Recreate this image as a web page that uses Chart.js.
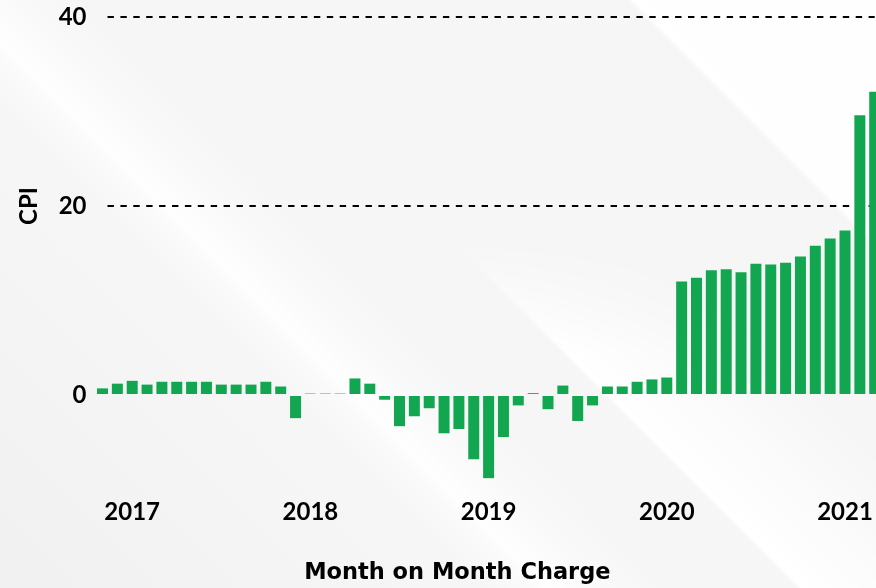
<!DOCTYPE html>
<html>
<head>
<meta charset="utf-8">
<script src="https://cdn.jsdelivr.net/npm/chart.js@4"></script>
<style>
  html, body { margin: 0; padding: 0; }
  body { width: 876px; height: 588px; overflow: hidden; background: #f6f6f6; position: relative; }
  .bg { position: absolute; left: 0; top: 0; width: 876px; height: 588px; }
  #bg1 { background:
      linear-gradient(45deg, rgba(255,255,255,0) 83%, rgba(255,255,255,0.95) 83.4%, rgba(255,255,255,0.85) 100%),
      linear-gradient(45deg, rgba(255,255,255,0) 33%, rgba(255,255,255,0.55) 36.5%, rgba(255,255,255,0.9) 37.3%, rgba(255,255,255,0.3) 42%, rgba(255,255,255,0) 46%),
      linear-gradient(45deg, rgba(235,235,235,0.5) 0%, rgba(255,255,255,0) 30%); }
  #bg2 {
    background: linear-gradient(45deg, rgba(255,255,255,0) 54.4%, rgba(255,255,255,0.95) 54.8%, rgba(255,255,255,0.5) 62%, rgba(255,255,255,0) 70%);
    -webkit-mask-image: linear-gradient(to bottom, rgba(0,0,0,0) 40%, rgba(0,0,0,1) 60%);
    mask-image: linear-gradient(to bottom, rgba(0,0,0,0) 40%, rgba(0,0,0,1) 60%);
  }
  canvas { display: block; position: absolute; left: 0; top: 0; }
</style>
</head>
<body>
<div class="bg" id="bg1"></div>
<div class="bg" id="bg2"></div>
<canvas id="c" width="876" height="588"></canvas>
<script>
// Month categories (Nov 2016 .. Mar 2021)
const months = [
  'Nov 2016','Dec 2016',
  'Jan 2017','Feb 2017','Mar 2017','Apr 2017','May 2017','Jun 2017','Jul 2017','Aug 2017','Sep 2017','Oct 2017','Nov 2017','Dec 2017',
  'Jan 2018','Feb 2018','Mar 2018','Apr 2018','May 2018','Jun 2018','Jul 2018','Aug 2018','Sep 2018','Oct 2018','Nov 2018','Dec 2018',
  'Jan 2019','Feb 2019','Mar 2019','Apr 2019','May 2019','Jun 2019','Jul 2019','Aug 2019','Sep 2019','Oct 2019','Nov 2019','Dec 2019',
  'Jan 2020','Feb 2020','Mar 2020','Apr 2020','May 2020','Jun 2020','Jul 2020','Aug 2020','Sep 2020','Oct 2020','Nov 2020','Dec 2020',
  'Jan 2021','Feb 2021','Mar 2021'
];

// CPI month-on-month values
const cpiValues = [
  0.7, 1.2,
  1.5, 1.1, 1.4, 1.4, 1.4, 1.4, 1.1, 1.1, 1.1, 1.4, 0.9, -2.45,
  0.15, 0.15, 0.15, 1.75, 1.2, -0.5, -3.3, -2.25, -1.4, -4.05, -3.6, -6.8,
  -8.8, -4.45, -1.1, 0.2, -1.5, 1.0, -2.75, -1.1, 0.9, 0.9, 1.4, 1.65,
  1.85, 12.0, 12.4, 13.2, 13.3, 13.0, 13.9, 13.8, 14.0, 14.65, 15.8, 16.55,
  17.4, 29.6, 32.1
];

// Y-axis ticks shown
const yTicks = [0, 20, 40];

const xTitle = 'Month on Month Charge';
const yTitle = 'CPI';
const barColor = '#13a651';

new Chart(document.getElementById('c'), {
  type: 'bar',
  data: {
    labels: months,
    datasets: [{
      label: 'CPI',
      data: cpiValues,
      backgroundColor: barColor,
      borderWidth: 0,
      barPercentage: 0.74,
      categoryPercentage: 1,
      clip: false
    }]
  },
  options: {
    responsive: false,
    animation: false,
    devicePixelRatio: 1,
    layout: { padding: { left: 40, right: 1.3, top: 17, bottom: 0 } },
    plugins: {
      legend: { display: false },
      tooltip: { enabled: false },
      title: {
        display: true,
        text: xTitle,
        position: 'bottom',
        fullSize: true,
        color: '#000',
        font: { family: 'DejaVu Sans', weight: 'bold', size: 22.5, lineHeight: 1.2 },
        padding: { top: 34.5, bottom: 1.5 }
      }
    },
    scales: {
      x: {
        offset: false,
        grid: { display: false, drawTicks: false },
        border: { display: false },
        ticks: {
          autoSkip: false,
          maxRotation: 0,
          minRotation: 0,
          padding: 103,
          color: '#000',
          font: { family: 'Lato', weight: 'bold', size: 24 },
          callback: function (v, i) {
            const l = months[i];
            return l.startsWith('Jan') ? l.slice(4) : '';
          }
        },
        afterFit: function (s) { s.height = 130; s.paddingLeft = 0; s.paddingRight = 0; }
      },
      y: {
        min: 0,
        max: 40,
        afterBuildTicks: function (s) { s.ticks = yTicks.map(v => ({ value: v })); },
        border: { display: false, dash: [6.4, 6.5], dashOffset: 8.4 },
        grid: {
          drawTicks: false,
          lineWidth: 2,
          color: function (ctx) { return ctx.tick && ctx.tick.value === 0 ? 'rgba(0,0,0,0)' : '#000'; }
        },
        ticks: {
          padding: 16,
          color: '#000',
          font: { family: 'Lato', weight: 'bold', size: 24 }
        },
        title: {
          display: true,
          text: yTitle,
          color: '#000',
          font: { family: 'Lato', weight: 'bold', size: 24, lineHeight: 1 },
          padding: { top: -23, bottom: 0 }
        },
        afterFit: function (s) { s.width = 62.5; s.paddingTop = 0; s.paddingBottom = 0; }
      }
    }
  }
});
</script>
</body>
</html>
